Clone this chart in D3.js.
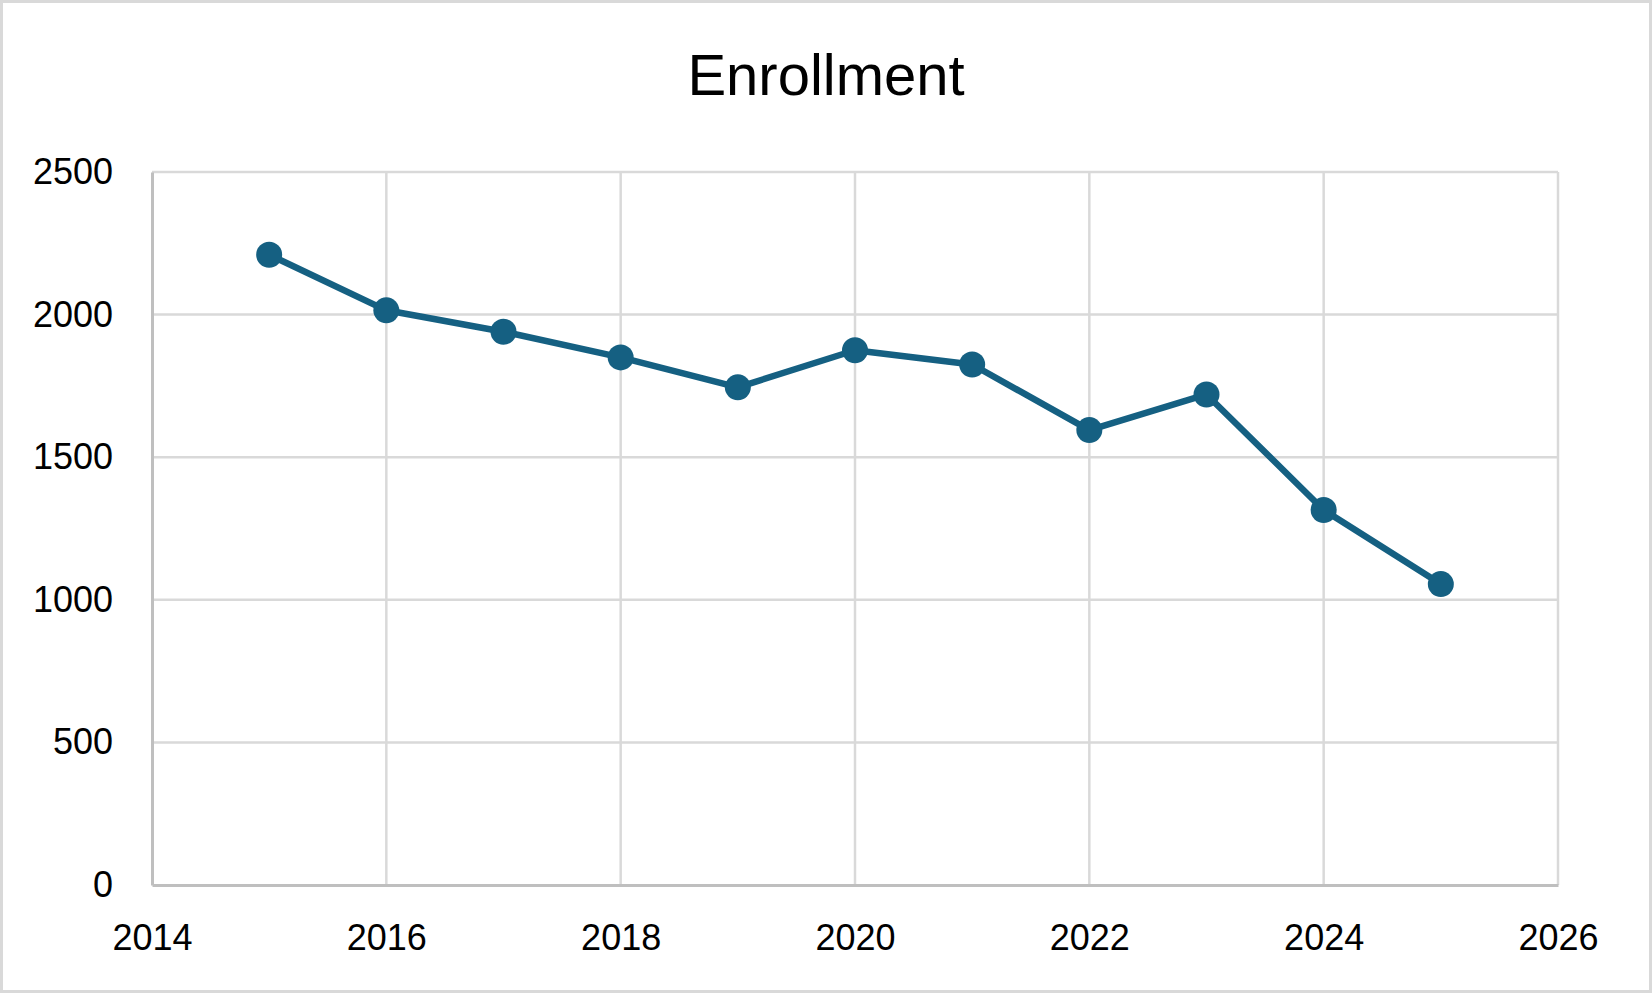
<!DOCTYPE html>
<html>
<head>
  <meta charset="UTF-8">
  <title>Enrollment</title>
  <script src="https://cdn.jsdelivr.net/npm/d3@7"></script>
  <style>
    body { margin: 0; background: #fff; }
    text { font-family: "Liberation Sans", Arial, sans-serif; fill: #000; }
  </style>
</head>
<body>
  <div id="chart"></div>
  <script>
    // values
    const years = [2015, 2016, 2017, 2018, 2019, 2020, 2021, 2022, 2023, 2024, 2025];
    const enrollment = [2210, 2015, 1940, 1850, 1745, 1875, 1825, 1595, 1720, 1315, 1055];
    const xTicks = [2014, 2016, 2018, 2020, 2022, 2024, 2026];
    const yTicks = [0, 500, 1000, 1500, 2000, 2500];
    const title = 'Enrollment';

    const width = 1652, height = 993;
    const margin = { top: 172, right: 94, bottom: 108, left: 152 };

    const svg = d3.select('#chart').append('svg')
      .attr('width', width)
      .attr('height', height);

    svg.append('rect')
      .attr('x', 1.5).attr('y', 1.5)
      .attr('width', width - 3).attr('height', height - 3)
      .attr('fill', '#fff')
      .attr('stroke', '#d9d9d9')
      .attr('stroke-width', 3);

    const x = d3.scaleLinear()
      .domain([2014, 2026])
      .range([margin.left, width - margin.right]);

    const y = d3.scaleLinear()
      .domain([0, 2500])
      .range([height - margin.bottom, margin.top]);

    // gridlines
    svg.append('g').selectAll('line').data(yTicks.filter(d => d > 0))
      .enter().append('line')
        .attr('x1', x(2014)).attr('x2', x(2026))
        .attr('y1', d => y(d)).attr('y2', d => y(d))
        .attr('stroke', '#d9d9d9').attr('stroke-width', 2.5);

    svg.append('g').selectAll('line').data(xTicks.filter(d => d > 2014))
      .enter().append('line')
        .attr('x1', d => x(d)).attr('x2', d => x(d))
        .attr('y1', y(0)).attr('y2', y(2500))
        .attr('stroke', '#d9d9d9').attr('stroke-width', 2.5);

    // axes
    const xAxis = svg.append('g')
      .attr('transform', `translate(0,${y(0)})`)
      .call(d3.axisBottom(x).tickValues(xTicks).tickFormat(d3.format('d')).tickSize(0).tickPadding(39));
    xAxis.select('.domain').attr('stroke', '#bfbfbf').attr('stroke-width', 3);
    xAxis.selectAll('text').style('font-size', '36px').attr('fill', '#000');

    const yAxis = svg.append('g')
      .attr('transform', `translate(${x(2014)},0)`)
      .call(d3.axisLeft(y).tickValues(yTicks).tickFormat(d3.format('d')).tickSize(0).tickPadding(39));
    yAxis.select('.domain').attr('stroke', '#bfbfbf').attr('stroke-width', 3);
    yAxis.selectAll('text').style('font-size', '36px').attr('fill', '#000');

    // series
    const points = years.map((yr, i) => [yr, enrollment[i]]);

    svg.append('path')
      .datum(points)
      .attr('fill', 'none')
      .attr('stroke', '#156082')
      .attr('stroke-width', 6.5)
      .attr('stroke-linejoin', 'round')
      .attr('d', d3.line().x(d => x(d[0])).y(d => y(d[1])));

    svg.append('g').selectAll('circle').data(points)
      .enter().append('circle')
        .attr('cx', d => x(d[0]))
        .attr('cy', d => y(d[1]))
        .attr('r', 13)
        .attr('fill', '#156082');

    svg.append('text')
      .attr('x', width / 2)
      .attr('y', 95)
      .attr('text-anchor', 'middle')
      .style('font-size', '58px')
      .text(title);
  </script>
</body>
</html>
